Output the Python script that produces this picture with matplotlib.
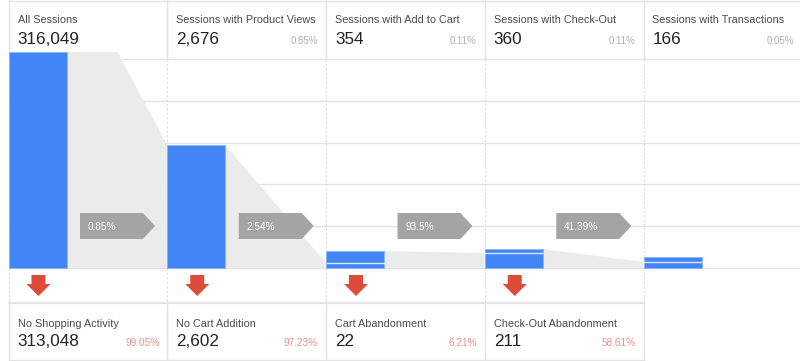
import numpy as np
import matplotlib.pyplot as plt
from matplotlib.patches import Polygon

plt.rcParams['font.family'] = ['Liberation Sans', 'DejaVu Sans']

#----------------------------------------------------------------------
# Data

stages = ["All Sessions", "Sessions with Product Views", "Sessions with Add to Cart",
          "Sessions with Check-Out", "Sessions with Transactions"]
stage_sessions = ["316,049", "2,676", "354", "360", "166"]
stage_pct = ["", "0.85%", "0.11%", "0.11%", "0.05%"]

# funnel bar sizes as drawn (px-like display scale, not linear in sessions)
bar_size = [216, 123, 17, 19, 11]
# part of each bar that came from the previous stage (below the white line)
inflow_size = [0, 123, 5, 15, 6]

flow_pct = ["0.85%", "2.54%", "93.5%", "41.39%"]

drop_labels = ["No Shopping Activity", "No Cart Addition", "Cart Abandonment",
               "Check-Out Abandonment"]
drop_sessions = ["313,048", "2,602", "22", "211"]
drop_pct = ["99.05%", "97.23%", "6.21%", "58.61%"]

#----------------------------------------------------------------------
# Layout (pixel coordinates, y grows downwards)

W, H = 800, 361
X0, COLW = 8.5, 158.75
BASE = 268          # bar baseline
HEAD = 59           # bottom of the header
FOOT = 303          # top of the drop-off boxes
BARW = 58

BLUE = '#4285f4'
TAPER = '#ebebeb'
LINE = '#e3e3e3'
RED = '#dd4b39'
ARROW_GRAY = '#a4a4a4'

fig = plt.figure(figsize=(W / 100, H / 100), dpi=100)
ax = fig.add_axes([0, 0, 1, 1])
ax.set_xlim(0, W)
ax.set_ylim(H, 0)
ax.axis('off')

cols = X0 + COLW * np.arange(len(stages))

# horizontal grid lines of the chart area
for gy in np.linspace(HEAD, BASE, 6):
    ax.plot([X0, W], [gy, gy], color=LINE, lw=1, zorder=1)
ax.plot([X0, W], [0.8, 0.8], color=LINE, lw=1, zorder=1)

# header cell separators
for cx in cols:
    ax.plot([cx, cx], [0, HEAD], color=LINE, lw=1, zorder=1)
# dashed separators through the chart area
for cx in cols[1:]:
    ax.plot([cx, cx], [HEAD, FOOT], color='#dcdcdc', lw=0.8, ls=(0, (2, 2)), zorder=1)
ax.plot([X0, X0], [BASE, FOOT], color='#dcdcdc', lw=0.8, ls=(0, (2, 2)), zorder=1)

# drop-off boxes frame
foot_right = cols[len(drop_labels)]
ax.plot([X0, foot_right], [FOOT, FOOT], color=LINE, lw=1.5, zorder=1)
ax.plot([X0, foot_right], [H - 1, H - 1], color=LINE, lw=1, zorder=1)
for cx in cols[:len(drop_labels) + 1]:
    ax.plot([cx, cx], [FOOT, H], color=LINE, lw=1, zorder=1)

# grey taper between stages
taper_flat = [51, 0, 0, 0]
for i in range(len(stages) - 1):
    right = cols[i] + BARW
    top = BASE - bar_size[i]
    end = BASE - inflow_size[i + 1]
    pts = [(right, top), (right + taper_flat[i], top), (cols[i + 1], end),
           (cols[i + 1], BASE), (right, BASE)]
    ax.add_patch(Polygon(pts, closed=True, facecolor=TAPER, edgecolor='none', zorder=2))

# stage bars
ax.bar(cols, [-h for h in bar_size], width=BARW, bottom=BASE, align='edge',
       color=BLUE, edgecolor='#8ab4f8', linewidth=0.6, zorder=3)
for i, h in enumerate(inflow_size):
    if 0 < h < bar_size[i]:
        ax.plot([cols[i] + 0.5, cols[i] + BARW - 0.5], [BASE - h, BASE - h],
                color='white', lw=1, alpha=0.8, zorder=4)

# conversion arrows (grey pentagons)
for i, txt in enumerate(flow_pct):
    bx = cols[i] + 71.5
    pts = [(bx, 213), (bx + 63, 213), (bx + 75, 226), (bx + 63, 239), (bx, 239)]
    ax.add_patch(Polygon(pts, closed=True, facecolor=ARROW_GRAY, edgecolor='none', zorder=5))
    ax.text(bx + 8, 226.5, txt, color='white', fontsize=7.2, va='center', ha='left', zorder=6)

# red drop-off arrows
for i in range(len(drop_labels)):
    cx = cols[i] + 30
    pts = [(cx - 7, 275), (cx + 7, 275), (cx + 7, 284), (cx + 12, 284),
           (cx, 296), (cx - 12, 284), (cx - 7, 284)]
    ax.add_patch(Polygon(pts, closed=True, facecolor=RED, edgecolor='none', zorder=5))

# header texts
for i, name in enumerate(stages):
    ax.text(cols[i] + 9, 23, name, fontsize=7.8, color='#4a4a4a', va='baseline')
    ax.text(cols[i] + 9, 43.5, stage_sessions[i], fontsize=12.3, color='#222222', va='baseline')
    if stage_pct[i]:
        ax.text(cols[i] + COLW - 8, 43.5, stage_pct[i], fontsize=7, color='#b0b0b0',
                va='baseline', ha='right')

# drop-off texts
for i, name in enumerate(drop_labels):
    ax.text(cols[i] + 9, 327, name, fontsize=7.8, color='#4a4a4a', va='baseline')
    ax.text(cols[i] + 9, 345.5, drop_sessions[i], fontsize=12.3, color='#222222', va='baseline')
    ax.text(cols[i] + COLW - 8, 345.5, drop_pct[i], fontsize=7.2, color='#ee9088',
            va='baseline', ha='right')

fig.savefig('out.png', dpi=100)
